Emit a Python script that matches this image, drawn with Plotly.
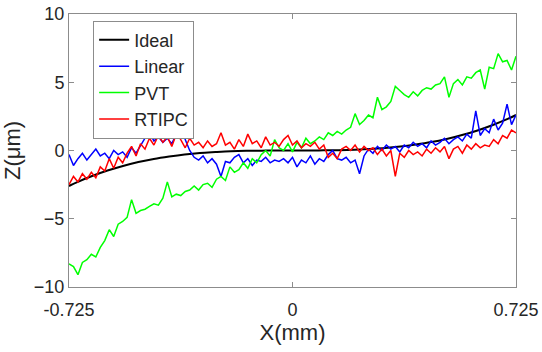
import numpy as np
import plotly.graph_objects as go

# X positions (mm) of sampled measurement points
x_meas = list(np.round(np.linspace(-0.725, 0.725, 101), 4))

# Ideal profile
x_ideal = [-0.725, -0.70, -0.65, -0.60, -0.55, -0.50, -0.45, -0.40, -0.35, -0.30,
           -0.25, -0.20, -0.15, -0.10, -0.05, 0.0, 0.05, 0.10, 0.15, 0.20, 0.25,
           0.30, 0.35, 0.40, 0.45, 0.50, 0.55, 0.60, 0.65, 0.70, 0.725]
z_ideal = [-2.6, -2.33, -1.87, -1.47, -1.13, -0.85, -0.62, -0.44, -0.29, -0.18,
           -0.11, -0.05, -0.02, -0.01, 0.0, 0.0, 0.0, 0.01, 0.02, 0.05, 0.11,
           0.18, 0.29, 0.44, 0.62, 0.85, 1.13, 1.47, 1.87, 2.33, 2.6]

z_linear = [-0.3, -1.1, -0.6, -0.2, -0.7, -0.3, 0.1, -0.4, -0.2, -0.6,
            0.0, -0.3, -0.1, -0.5, 0.2, -0.2, 0.4, 0.9, 1.3, 0.7,
            1.0, 0.6, 0.9, 0.5, 1.2, 2.1, 0.8, 0.0, -0.5, -0.7,
            -0.4, -0.9, -0.6, -1.0, -1.9, -0.8, -0.9, -0.5, -0.3, -0.9,
            -0.6, -1.1, -0.7, -0.8, -0.5, -0.9, -0.7, -0.8, -0.6, -0.9,
            -0.5, -1.2, -0.7, -0.9, -0.4, -1.0, -0.6, -0.8, -0.3, 0.0,
            -0.6, -0.7, -0.5, -0.9, -0.7, -1.7, -0.4, 0.1, -0.2, 0.3,
            0.0, 0.4, 0.1, 0.3, -0.1, 0.4, 0.2, 0.6, 0.3, 0.5,
            0.2, 0.7, 0.4, 0.6, 0.9, 0.5, 0.8, 1.0, 0.7, 1.2,
            0.9, 2.9, 1.1, 1.6, 1.3, 2.3, 1.5, 2.0, 3.4, 1.9,
            2.6]

z_pvt = [-8.3, -8.5, -9.1, -8.2, -8.0, -7.6, -7.8, -7.1, -6.6, -5.8,
         -6.3, -5.4, -5.2, -4.9, -3.6, -4.6, -4.4, -4.3, -4.1, -3.9,
         -4.0, -3.5, -2.3, -3.4, -3.2, -3.3, -3.0, -2.9, -2.6, -2.9,
         -2.5, -2.4, -2.7, -2.1, -1.9, -2.2, -1.2, -1.6, -1.4, -0.9,
         -1.3, -0.6, -0.9, -0.3, 0.0, -0.4, 0.8, 0.2, 0.0, 0.5,
         -0.1, 0.6, 0.2, 0.9, 0.5, 0.7, 1.0, 0.8, 1.3, 1.1,
         1.4, 1.2, 1.5, 1.7, 2.7, 1.9, 2.2, 2.6, 2.4, 3.9,
         3.0, 3.2, 3.6, 4.7, 4.4, 4.1, 3.9, 4.3, 4.0, 4.4,
         4.6, 4.5, 4.8, 4.9, 5.4, 3.9, 4.9, 5.2, 4.8, 5.4,
         5.3, 5.7, 5.9, 4.5, 6.1, 6.0, 7.1, 6.5, 6.6, 5.9,
         6.9]

z_rtipc = [-2.5, -1.9, -2.3, -1.7, -2.1, -1.6, -2.0, -1.2, -1.5, -0.6,
           -1.3, -0.5, -0.9, -0.2, 0.3, -0.4, 0.5, 0.1, 0.9, 0.4,
           1.1, 0.6, 1.0, 0.3, 1.2, 0.8, 0.2, 0.9, 0.4, 0.6,
           0.2, 0.7, 0.3, 0.5, 1.3, 0.4, 0.6, 0.1, 0.8, 0.3,
           1.2, 0.5, 0.7, 0.2, 1.0, 0.4, 0.6, 0.3, 0.8, 1.1,
           0.4, 0.7, 0.2, 0.5, 0.3, 0.6, 0.1, 0.4, -0.5, -0.2,
           -0.6, 0.1, 0.3, 0.0, 0.4, -0.1, 0.3, 0.0, 0.2, -0.3,
           0.1, -0.4, 0.0, -1.9, -0.2, -0.5, 0.0, -0.3, -0.1, -0.4,
           0.1, -0.2, 0.2, -0.1, 0.3, -0.6, 0.1, 0.3, -0.2, 0.4,
           0.1, 0.5, 0.2, 0.4, 0.3, 0.8, 0.5, 1.1, 0.9, 1.5,
           1.3]

x_ticks = [-0.725, 0, 0.725]
x_tick_labels = ["-0.725", "0", "0.725"]
y_ticks = [-10, -5, 0, 5, 10]

FONT = "Liberation Sans, Arial, sans-serif"
AXIS_COLOR = "#8c8c8c"

fig = go.Figure()
fig.add_trace(go.Scatter(x=x_ideal, y=z_ideal, mode="lines", name="Ideal",
                         line=dict(color="#000000", width=2, shape="spline")))
fig.add_trace(go.Scatter(x=x_meas, y=z_linear, mode="lines", name="Linear",
                         line=dict(color="#0000ff", width=1.5)))
fig.add_trace(go.Scatter(x=x_meas, y=z_pvt, mode="lines", name="PVT",
                         line=dict(color="#00ff00", width=1.5)))
fig.add_trace(go.Scatter(x=x_meas, y=z_rtipc, mode="lines", name="RTIPC",
                         line=dict(color="#ff0000", width=1.5)))

fig.update_layout(
    width=542, height=352,
    margin=dict(l=69, r=26, t=14, b=65, pad=0, autoexpand=False),
    paper_bgcolor="white", plot_bgcolor="white",
    font=dict(family=FONT, size=18, color="#262626"),
    showlegend=True,
    legend=dict(x=0.054, y=0.976, xanchor="left", yanchor="top",
                bgcolor="white", bordercolor=AXIS_COLOR, borderwidth=1,
                font=dict(size=18, color="#262626"), itemwidth=30,
                tracegroupgap=0),
    xaxis=dict(range=[-0.725, 0.725], tickvals=x_ticks, ticktext=x_tick_labels,
               showgrid=False, zeroline=False, showline=True, linecolor=AXIS_COLOR,
               linewidth=1, mirror="ticks", ticks="inside", ticklen=5,
               tickcolor=AXIS_COLOR, automargin=False, ticklabelstandoff=6,
               ticklabeloverflow="allow",
               title=dict(text="X(mm)", standoff=2)),
    yaxis=dict(range=[-10, 10], tickvals=y_ticks,
               showgrid=False, zeroline=False, showline=True, linecolor=AXIS_COLOR,
               linewidth=1, mirror="ticks", ticks="inside", ticklen=5,
               tickcolor=AXIS_COLOR, automargin=False, ticklabeloverflow="allow",
               title=dict(text="Z(μm)", standoff=14)),
)

fig.write_html("out.html", config={"displayModeBar": False},
               post_script="document.body.style.margin='0px';")
